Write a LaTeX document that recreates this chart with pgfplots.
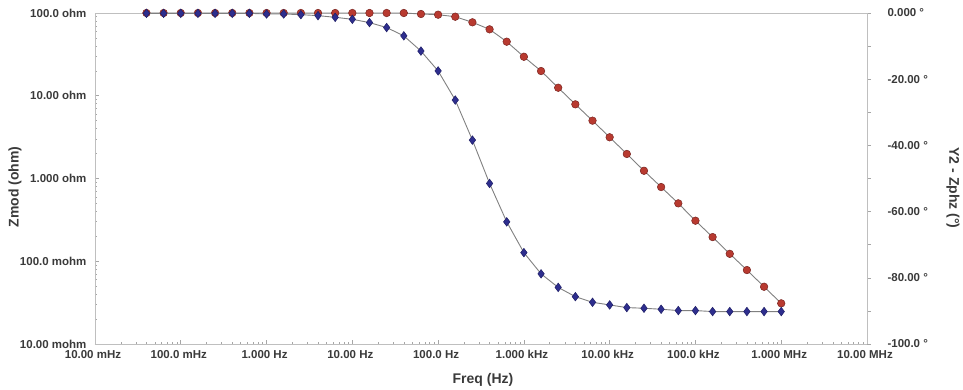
\documentclass[border=0pt]{standalone}
\usepackage{fontspec}
\setmainfont{Liberation Sans}
\usepackage{pgfplots}
\usepackage{pgfplotstable}
\pgfplotsset{compat=1.18}
\definecolor{zred}{HTML}{B83A30}
\definecolor{zredd}{HTML}{7A2420}
\definecolor{zblue}{HTML}{2E2E8E}
\definecolor{zblued}{HTML}{1E1E66}
\definecolor{labgray}{HTML}{3A3A3A}
\definecolor{linegray}{HTML}{808080}
\pgfplotstableread{
f z ph
0.03981 100 -0.1
0.06310 100 -0.1
0.1 100 -0.1
0.1585 100 -0.1
0.2512 100 -0.1
0.3981 100 -0.1
0.6310 100 -0.1
1 100 -0.3
1.585 100 -0.3
2.512 100 -0.5
3.981 100 -0.8
6.310 100 -1.3
10 100 -1.9
15.85 100 -2.9
25.12 100 -4.4
39.81 100 -6.9
63.10 97.3 -11.5
100 95.4 -17.5
158.5 90.2 -26.3
251.2 77.2 -38.4
398.1 63.5 -51.5
631.0 45.0 -63.1
1000 29.6 -72.4
1585 19.9 -78.8
2512 12.5 -82.9
3981 7.88 -85.7
6310 5.0 -87.4
10000 3.15 -88.2
15850 1.98 -89.0
25120 1.24 -89.2
39810 0.789 -89.5
63100 0.501 -89.9
100000 0.309 -89.9
158500 0.196 -90.2
251200 0.123 -90.2
398100 0.0783 -90.2
631000 0.0492 -90.2
1000000 0.0310 -90.2
}\data
\begin{document}
\begin{tikzpicture}
\useasboundingbox (-95pt,-45pt) rectangle (868pt,344pt);
\begin{axis}[
 at={(0,0)}, anchor=south west,
 scale only axis, width=772pt, height=331pt,
 xmode=log, ymode=log,
 xmin=0.01, xmax=1e7, ymin=0.01, ymax=100,
 xtick={0.01,0.1,1,10,100,1000,10000,100000,1000000,10000000},
 xticklabels={10.00 mHz,100.0 mHz,1.000 Hz,10.00 Hz,100.0 Hz,1.000 kHz,10.00 kHz,100.0 kHz,1.000 MHz,10.00 MHz},
 ytick={0.01,0.1,1,10,100},
 yticklabels={10.00 mohm,100.0 mohm,1.000 ohm,10.00 ohm,100.0 ohm},
 xtick pos=bottom, ytick pos=left,
 tick align=inside,
 axis line style={draw=gray!50, line width=0.9pt},
 every tick/.style={draw=gray!70, line width=0.6pt},
 major tick length=4pt, minor tick length=2.5pt,
 tick label style={font=\bfseries\fontsize{11.5}{12}\selectfont, text=labgray},
 yticklabel style={xshift=-5pt},
 xticklabel style={yshift=-3pt, xshift=-2pt},
 xlabel={Freq (Hz)}, ylabel={Zmod (ohm)},
 label style={font=\bfseries\fontsize{14}{16}\selectfont, text=labgray},
 xlabel style={at={(axis description cs:0.5026,-0.109)}, anchor=center},
 ylabel style={at={(axis description cs:-0.1036,0.474)}, anchor=center},
 clip=false,
]
\addplot[color=linegray, line width=0.9pt, mark=*, mark size=3.8pt,
  mark options={fill=zred, draw=zredd, line width=0.5pt}] table[x=f, y=z] {\data};
\end{axis}
\begin{axis}[
 at={(0,0)}, anchor=south west,
 scale only axis, width=772pt, height=331pt,
 xmode=log, xmin=0.01, xmax=1e7,
 ymin=-100, ymax=0,
 axis x line=none, axis y line*=right,
 ytick={-100,-80,-60,-40,-20,0},
 yticklabels={-100.0 °,-80.00 °,-60.00 °,-40.00 °,-20.00 °,0.000 °},
 minor y tick num=1,
 tick align=outside,
 axis line style={draw=gray!50, line width=0.9pt},
 every tick/.style={draw=gray!70, line width=0.6pt},
 major tick length=4pt, minor tick length=4pt,
 tick label style={font=\bfseries\fontsize{11.5}{12}\selectfont, text=labgray},
 yticklabel style={xshift=13pt},
 ylabel={Y2 - Zphz (°)},
 label style={font=\bfseries\fontsize{14}{16}\selectfont, text=labgray},
 ylabel style={at={(axis description cs:1.1114,0.471)}, anchor=center, rotate=180},
 clip=false,
]
\addplot[color=linegray, line width=0.9pt, mark=diamond*, mark size=4.3pt,
  mark options={fill=zblue, draw=zblued, line width=0.5pt}] table[x=f, y=ph] {\data};
\end{axis}
\end{tikzpicture}
\end{document}
